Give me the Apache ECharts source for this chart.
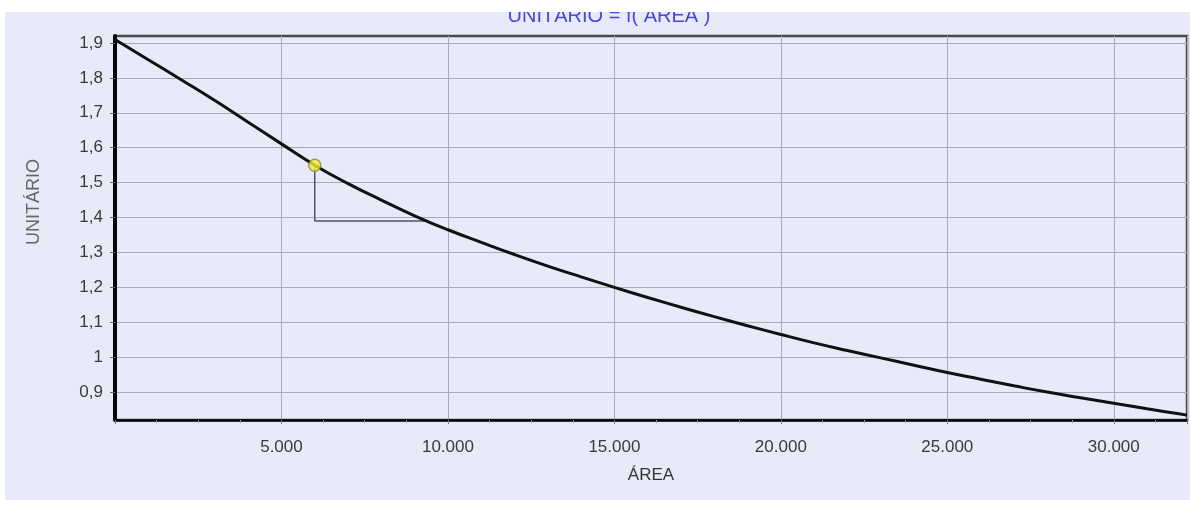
<!DOCTYPE html>
<html>
<head>
<meta charset="utf-8">
<title>UNITÁRIO = f( ÁREA )</title>
<script src="https://cdn.jsdelivr.net/npm/echarts@6/dist/echarts.min.js"></script>
<style>
  html, body { margin: 0; padding: 0; background: #ffffff; }
  #chart { position: absolute; left: 5px; top: 12px; width: 1185px; height: 488px; }
</style>
</head>
<body>
<div id="chart"></div>
<script>
  // curva (área x unitário)
  var areas = [0, 1000, 2000, 3000, 4000, 5000, 6000, 7000, 8000, 9000, 10000,
    11000, 12000, 13000, 14000, 15000, 16000, 17000, 18000, 19000, 20000,
    21000, 22000, 23000, 24000, 25000, 26000, 27000, 28000, 29000, 30000,
    31000, 32000, 32200];
  var unitarios = [1.910, 1.852, 1.794, 1.735, 1.673, 1.611, 1.550, 1.497, 1.450, 1.405, 1.365,
    1.329, 1.294, 1.261, 1.230, 1.200, 1.171, 1.143, 1.116, 1.090, 1.065,
    1.041, 1.019, 0.998, 0.977, 0.956, 0.937, 0.918, 0.900, 0.884, 0.868,
    0.852, 0.837, 0.834];

  // ponto marcado e linhas-guia
  var pontoArea = [6000];
  var pontoUnit = [1.55];
  var guiaAreas = [6000, 6000, 9350];
  var guiaUnits = [1.55, 1.39, 1.39];

  // marcas dos eixos
  var yTicks = [0.9, 1.0, 1.1, 1.2, 1.3, 1.4, 1.5, 1.6, 1.7, 1.8, 1.9];
  var xMin = 0, xMax = 32200, xStep = 5000;
  var yMin = 0.82, yMax = 1.92;

  function zip(a, b) {
    return a.map(function (v, i) { return [v, b[i]]; });
  }

  var chart = echarts.init(document.getElementById('chart'));
  var option = {
    backgroundColor: '#e9eaf9',
    animation: false,
    textStyle: { fontFamily: 'Liberation Sans, Arial, sans-serif' },
    // título cortado no topo, como na imagem original
    graphic: [{
      type: 'text',
      x: 604,
      y: 4,
      silent: true,
      style: {
        text: 'UNITÁRIO = f( ÁREA )',
        fill: '#4848d4',
        font: '20px "Liberation Sans", Arial, sans-serif',
        textAlign: 'center',
        textVerticalAlign: 'middle'
      }
    }],
    grid: {
      left: 110,
      right: 3,
      top: 24,
      bottom: 80,
      show: true,
      backgroundColor: '#e9eaf9',
      borderColor: '#4a4a4a',
      borderWidth: 2.5
    },
    xAxis: {
      type: 'value',
      min: xMin,
      max: xMax,
      interval: xStep,
      name: 'ÁREA',
      nameLocation: 'middle',
      nameGap: 47,
      nameTextStyle: { color: '#333', fontSize: 17 },
      axisLine: { lineStyle: { color: '#000', width: 2.5 } },
      axisTick: { show: true, length: 4, lineStyle: { color: '#777' } },
      minorTick: { show: true, splitNumber: 4, length: 3, lineStyle: { color: '#999' } },
      axisLabel: {
        color: '#3a3a3a',
        fontSize: 17,
        margin: 19,
        showMinLabel: false,
        showMaxLabel: false,
        formatter: function (v) { return v.toLocaleString('pt-BR').replace(/,/g, '.'); }
      },
      splitLine: { show: true, lineStyle: { color: '#a9aab8', width: 1 } }
    },
    yAxis: {
      type: 'value',
      min: yMin,
      max: yMax,
      name: 'UNITÁRIO',
      nameLocation: 'middle',
      nameGap: 72,
      nameTextStyle: { color: '#666', fontSize: 18, padding: [0, 0, 0, 52] },
      axisLine: { show: true, lineStyle: { color: '#000', width: 4 } },
      axisTick: { show: true, length: 5, customValues: yTicks, lineStyle: { color: '#666' } },
      axisLabel: {
        color: '#3a3a3a',
        fontSize: 17,
        margin: 12,
        customValues: yTicks,
        formatter: function (v) { return String(Math.round(v * 10) / 10).replace('.', ','); }
      },
      splitLine: { show: true, lineStyle: { color: '#a9aab8', width: 1 } }
    },
    series: [
      {
        name: 'guia',
        type: 'line',
        data: zip(guiaAreas, guiaUnits),
        symbol: 'none',
        lineStyle: { color: '#4e5668', width: 1.5 },
        z: 2
      },
      {
        name: 'unitário',
        type: 'line',
        data: zip(areas, unitarios),
        smooth: true,
        symbol: 'none',
        lineStyle: { color: '#111', width: 3 },
        z: 3
      },
      {
        name: 'ponto',
        type: 'scatter',
        data: zip(pontoArea, pontoUnit),
        symbolSize: 12,
        itemStyle: { color: '#f2ee3a', borderColor: '#8a8a30', borderWidth: 1.5 },
        z: 4
      }
    ]
  };
  chart.setOption(option);
  window.addEventListener('resize', function () {
    chart.resize();
  });
</script>
</body>
</html>
